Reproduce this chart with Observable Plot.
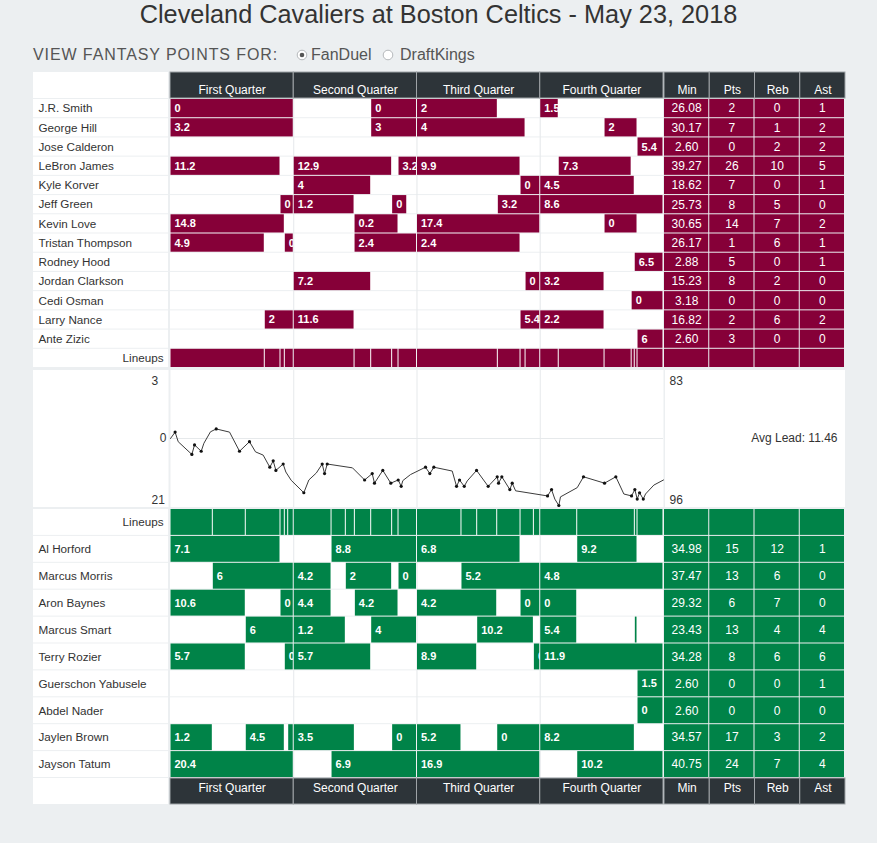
<!DOCTYPE html>
<html>
<head>
<meta charset="utf-8">
<script src="https://cdn.jsdelivr.net/npm/d3@7"></script>
<script src="https://cdn.jsdelivr.net/npm/@observablehq/plot@0.6"></script>
<style>
  html,body{margin:0;padding:0;background:#eceff1;}
  body{font-family:"Liberation Sans",Arial,Helvetica,sans-serif;}
  #page{position:relative;width:877px;height:843px;overflow:hidden;}
  .abs{position:absolute;}
  .abs svg{display:block;}
  #title{left:0;top:-1px;width:877px;text-align:center;font-size:25.3px;line-height:30px;color:#333;}
  .opt{font-size:16px;line-height:20px;color:#555;top:45px;white-space:nowrap;}
</style>
</head>
<body>
<div id="page">
  <div id="title" class="abs">Cleveland Cavaliers at Boston Celtics - May 23, 2018</div>
  <div class="abs opt" style="left:33px;letter-spacing:0.9px">VIEW FANTASY POINTS FOR:</div>
  <svg class="abs" style="left:296px;top:49px" width="12" height="12"><circle cx="6" cy="6" r="4.8" fill="#fff" stroke="#b5b8bb"/><circle cx="6" cy="6" r="2.3" fill="#555"/></svg>
  <div class="abs opt" style="left:311px">FanDuel</div>
  <svg class="abs" style="left:382px;top:49px" width="12" height="12"><circle cx="6" cy="6" r="4.8" fill="#fff" stroke="#b5b8bb"/></svg>
  <div class="abs opt" style="left:400px">DraftKings</div>
  <div class="abs" style="left:33px;top:72px;width:135px;height:26px;background:#fff"></div>
  <div class="abs" style="left:33px;top:778px;width:135px;height:26px;background:#fff"></div>
</div>
<script>
// ---------- data ----------
const quarterNames = ["First Quarter", "Second Quarter", "Third Quarter", "Fourth Quarter"];
const quarterStart = [0, 12, 24, 36];
const quarterEnd = [12, 24, 36, 48];
const statNames = ["Min", "Pts", "Reb", "Ast"];

const cavsPlayers = ["J.R. Smith", "George Hill", "Jose Calderon", "LeBron James", "Kyle Korver", "Jeff Green", "Kevin Love", "Tristan Thompson", "Rodney Hood", "Jordan Clarkson", "Cedi Osman", "Larry Nance", "Ante Zizic"];
const cavsMin = [26.08, 30.17, 2.60, 39.27, 18.62, 25.73, 30.65, 26.17, 2.88, 15.23, 3.18, 16.82, 2.60];
const cavsPts = [2, 7, 0, 26, 7, 8, 14, 1, 5, 8, 0, 2, 3];
const cavsReb = [0, 1, 2, 10, 0, 5, 7, 6, 0, 2, 0, 6, 0];
const cavsAst = [1, 2, 2, 5, 1, 0, 2, 1, 1, 0, 0, 2, 0];

// [player, start minute, end minute, fantasy points]
const cavsStints = [
  ["J.R. Smith", 0, 12, 0], ["J.R. Smith", 19.54, 24, 0], ["J.R. Smith", 24, 31.87, 2], ["J.R. Smith", 36, 37.8, 1.5],
  ["George Hill", 0, 12, 3.2], ["George Hill", 19.54, 24, 3], ["George Hill", 24, 34.57, 4], ["George Hill", 42.26, 45.47, 2],
  ["Jose Calderon", 45.47, 48, 5.4],
  ["LeBron James", 0, 10.71, 11.2], ["LeBron James", 12, 21.58, 12.9], ["LeBron James", 22.2, 24, 3.2], ["LeBron James", 24, 34.08, 9.9], ["LeBron James", 37.8, 44.9, 7.3],
  ["Kyle Korver", 12, 19.54, 4], ["Kyle Korver", 34.08, 36, 0], ["Kyle Korver", 36, 45.2, 4.5],
  ["Jeff Green", 10.71, 12, 0], ["Jeff Green", 12, 17.92, 1.2], ["Jeff Green", 21.58, 23.05, 0], ["Jeff Green", 31.87, 36, 3.2], ["Jeff Green", 36, 48, 8.6],
  ["Kevin Love", 0, 11.13, 14.8], ["Kevin Love", 17.92, 22.2, 0.2], ["Kevin Love", 24, 36, 17.4], ["Kevin Love", 42.26, 45.47, 0],
  ["Tristan Thompson", 0, 9.18, 4.9], ["Tristan Thompson", 11.13, 12, 0], ["Tristan Thompson", 17.92, 24, 2.4], ["Tristan Thompson", 24, 34.08, 2.4],
  ["Rodney Hood", 45.2, 48, 6.5],
  ["Jordan Clarkson", 12, 19.54, 7.2], ["Jordan Clarkson", 34.57, 36, 0], ["Jordan Clarkson", 36, 42.26, 3.2],
  ["Cedi Osman", 44.9, 48, 0],
  ["Larry Nance", 9.18, 12, 2], ["Larry Nance", 12, 17.92, 11.6], ["Larry Nance", 34.08, 36, 5.4], ["Larry Nance", 36, 42.26, 2.2],
  ["Ante Zizic", 45.47, 48, 6]
];
const cavsLineupChanges = [9.18, 10.71, 11.13, 12, 17.92, 19.54, 21.58, 22.2, 24, 31.87, 34.08, 34.57, 36, 37.8, 42.26, 44.9, 45.2, 45.47];

const celticsPlayers = ["Al Horford", "Marcus Morris", "Aron Baynes", "Marcus Smart", "Terry Rozier", "Guerschon Yabusele", "Abdel Nader", "Jaylen Brown", "Jayson Tatum"];
const celticsMin = [34.98, 37.47, 29.32, 23.43, 34.28, 2.60, 2.60, 34.57, 40.75];
const celticsPts = [15, 13, 6, 13, 8, 0, 0, 17, 24];
const celticsReb = [12, 6, 7, 4, 6, 0, 0, 3, 7];
const celticsAst = [1, 0, 0, 4, 6, 1, 0, 2, 4];

const celticsStints = [
  ["Al Horford", 0, 10.71, 7.1], ["Al Horford", 15.68, 24, 8.8], ["Al Horford", 24, 34.08, 6.8], ["Al Horford", 39.6, 45.47, 9.2],
  ["Marcus Morris", 4.12, 12, 6], ["Marcus Morris", 12, 15.68, 4.2], ["Marcus Morris", 17.07, 21.58, 2], ["Marcus Morris", 22.2, 24, 0], ["Marcus Morris", 28.33, 36, 5.2], ["Marcus Morris", 36, 48, 4.8],
  ["Aron Baynes", 0, 7.33, 10.6], ["Aron Baynes", 10.71, 12, 0], ["Aron Baynes", 12, 15.68, 4.4], ["Aron Baynes", 17.95, 22.2, 4.2], ["Aron Baynes", 24, 31.81, 4.2], ["Aron Baynes", 34.08, 36, 0], ["Aron Baynes", 36, 39.6, 0],
  ["Marcus Smart", 7.33, 12, 6], ["Marcus Smart", 12, 17.07, 1.2], ["Marcus Smart", 19.54, 24, 4], ["Marcus Smart", 29.86, 35.38, 10.2], ["Marcus Smart", 36, 39.6, 5.4], ["Marcus Smart", 45.21, 45.47, null],
  ["Terry Rozier", 0, 7.33, 5.7], ["Terry Rozier", 11.13, 12, 0], ["Terry Rozier", 12, 19.54, 5.7], ["Terry Rozier", 24, 29.86, 8.9], ["Terry Rozier", 35.38, 36, 0], ["Terry Rozier", 36, 48, 11.9],
  ["Guerschon Yabusele", 45.47, 48, 1.5],
  ["Abdel Nader", 45.47, 48, 0],
  ["Jaylen Brown", 0, 4.12, 1.2], ["Jaylen Brown", 7.33, 11.13, 4.5], ["Jaylen Brown", 11.46, 12, null], ["Jaylen Brown", 12, 17.95, 3.5], ["Jaylen Brown", 21.58, 24, 0], ["Jaylen Brown", 24, 28.33, 5.2], ["Jaylen Brown", 31.81, 36, 0], ["Jaylen Brown", 36, 45.21, 8.2],
  ["Jayson Tatum", 0, 12, 20.4], ["Jayson Tatum", 15.68, 24, 6.9], ["Jayson Tatum", 24, 36, 16.9], ["Jayson Tatum", 39.6, 48, 10.2]
];
const celticsLineupChanges = [4.12, 7.33, 10.71, 11.13, 11.46, 12, 15.68, 17.07, 17.95, 19.54, 21.58, 22.2, 24, 28.33, 29.86, 31.81, 34.08, 35.38, 36, 39.6, 45.21, 45.47];

// score margin (Cavs minus Celtics) over game minutes
const leadTime = [0, 0.45, 0.75, 2.08, 2.34, 2.99, 3.25, 3.89, 4.45, 5.75, 6.72, 7.69, 8.28, 9.02, 9.67, 10.0, 10.26, 10.97, 11.23, 11.75, 12.98, 13.47, 14.2, 14.77, 15.0, 15.26, 17.72, 18.9, 19.64, 19.86, 20.67, 21.45, 22.17, 22.46, 22.62, 23.37, 24.83, 25.25, 25.64, 27.43, 27.85, 28.14, 28.6, 28.89, 29.8, 30.93, 31.81, 31.94, 32.26, 33.04, 33.27, 33.6, 36.71, 37.1, 37.42, 37.81, 37.97, 39.6, 40.21, 42.26, 43.36, 44.14, 44.89, 45.21, 45.44, 45.67, 46.03, 46.25, 47.06, 48];
const leadMargin = [0, 2, -1, -5, -2, -4, -1.5, 2.1, 3, 2, -4, -1, -4.2, -5.2, -9, -7, -10, -8, -10.5, -13.1, -17, -13, -10.8, -8, -11, -8, -9.2, -13, -11, -14, -10, -14, -13, -15, -13.2, -11.3, -9, -11, -9, -10.2, -15, -13, -15, -13.3, -10, -15, -12, -14, -12, -16, -14, -16.4, -18, -16, -19, -21, -18.3, -15.4, -12, -14, -12, -17.4, -18, -16, -19, -17, -19, -17.4, -14.6, -13];
const leadDot = [0, 1, 0, 1, 1, 1, 0, 0, 1, 0, 1, 1, 0, 0, 1, 1, 1, 1, 0, 0, 1, 0, 0, 1, 1, 1, 0, 1, 1, 1, 1, 1, 1, 1, 0, 0, 1, 1, 1, 0, 1, 1, 1, 0, 1, 1, 1, 1, 1, 1, 1, 0, 1, 1, 0, 1, 0, 0, 1, 1, 1, 0, 1, 1, 1, 1, 1, 0, 0, 0];
const finalScores = [83, 96];
const avgLead = 11.46;

// ---------- styling ----------
const MAROON = "#860038", GREEN = "#008348", DARK = "#2d3439", PAGE = "#eceff1", GRID = "#e6e9eb";
const FONT = '"Liberation Sans", Arial, Helvetica, sans-serif';
const style = {fontFamily: FONT, fontSize: "12px", background: "transparent", overflow: "visible"};
const page = document.getElementById("page");
function place(el, left, top) {
  const d = document.createElement("div");
  d.className = "abs";
  d.style.left = left + "px";
  d.style.top = top + "px";
  d.appendChild(el);
  page.appendChild(d);
}
const quarters = quarterNames.map((n, i) => ({name: n, s: quarterStart[i], e: quarterEnd[i]}));
const qIndex = t => Math.min(3, Math.floor(t / 12));

function timeHeader(bottom) {
  return Plot.plot({
    width: 493, height: 26, margin: 0, style,
    x: {domain: [0, 48], axis: null},
    marks: [
      Plot.barX(quarters, {x1: "s", x2: "e", fill: DARK, stroke: "#9ea3a7", strokeWidth: 1}),
      Plot.text(quarters, {x: d => (d.s + d.e) / 2, text: "name", frameAnchor: "middle", dy: bottom ? -3.5 : 4.5, fill: "white", fontSize: 12})
    ]
  });
}
function statsHeader(bottom) {
  return Plot.plot({
    width: 181, height: 26, margin: 0, style,
    x: {type: "band", domain: statNames, padding: 0, round: false, axis: null},
    marks: [
      Plot.cell(statNames, {x: d => d, fill: DARK, stroke: "#9ea3a7", strokeWidth: 1}),
      Plot.text(statNames, {x: d => d, text: d => d, frameAnchor: "middle", dy: bottom ? -3.5 : 4.5, fill: "white", fontSize: 12})
    ]
  });
}
function namesPlot(rows, h) {
  return Plot.plot({
    width: 135, height: h, margin: 0, style,
    y: {type: "band", domain: rows, padding: 0, round: false, axis: null},
    marks: [
      Plot.cell(rows, {y: d => d, fill: "white", insetBottom: 1}),
      Plot.text(rows.filter(r => r !== "Lineups"), {y: d => d, text: d => d, frameAnchor: "left", dx: 5, dy: -0.5, textAnchor: "start", fill: "#333", fontSize: 11.7}),
      Plot.text(["Lineups"], {y: d => d, text: d => d, frameAnchor: "right", dx: -5, dy: -0.5, textAnchor: "end", fill: "#333", fontSize: 11.7})
    ]
  });
}
function timePlot(rows, stints, changes, color, h) {
  // stints and lineup segments are laid out per quarter (minutes within the quarter)
  const segs = d3.pairs([0, ...changes, 48]).map(([a, b]) => {
    const q = qIndex(a);
    return {q: quarterNames[q], s: a - quarterStart[q], e: b - quarterStart[q]};
  });
  const st = stints.map(([p, a, b, v]) => {
    const q = qIndex(a);
    return {p, q: quarterNames[q], s: a - quarterStart[q], e: b - quarterStart[q], v};
  });
  const bg = rows.flatMap(r => quarterNames.map(q => ({r, q})));
  return Plot.plot({
    width: 493, height: h, margin: 0, style,
    fx: {domain: quarterNames, padding: 0, round: false, axis: null},
    x: {domain: [0, 12], axis: null},
    y: {type: "band", domain: rows, padding: 0, round: false, axis: null},
    marks: [
      Plot.cell(bg, {fx: "q", y: "r", fill: "white", insetBottom: 1}),
      Plot.ruleX(quarterNames.slice(1), {fx: d => d, x: 0, stroke: GRID}),
      Plot.barX(st, {fx: "q", x1: "s", x2: "e", y: "p", fill: color, insetBottom: 1, insetLeft: 0.5, insetRight: 0.5}),
      Plot.barX(segs, {fx: "q", x1: "s", x2: "e", y: () => "Lineups", fill: color, insetBottom: 1, insetLeft: 0.5, insetRight: 0.5}),
      Plot.text(st.filter(d => d.v != null), {fx: "q", x: "s", y: "p", text: d => String(d.v), dx: 4, dy: -0.5, textAnchor: "start", fill: "white", fontWeight: "bold", fontSize: 11, clip: true})
    ]
  });
}
function statsPlot(rows, players, mins, pts, reb, ast, color, h) {
  const fmt = d3.format(".2f");
  const cells = rows.flatMap(r => {
    const i = players.indexOf(r);
    const vals = i < 0 ? ["", "", "", ""] : [fmt(mins[i]), String(pts[i]), String(reb[i]), String(ast[i])];
    return statNames.map((s, j) => ({r, s, v: vals[j]}));
  });
  return Plot.plot({
    width: 181, height: h, margin: 0, style,
    x: {type: "band", domain: statNames, padding: 0, round: false, axis: null},
    y: {type: "band", domain: rows, padding: 0, round: false, axis: null},
    marks: [
      Plot.cell(cells, {x: "s", y: "r", fill: color, insetRight: 1, insetBottom: 1}),
      Plot.text(cells.filter(d => d.v !== ""), {x: "s", y: "r", text: "v", dx: -0.5, dy: -0.5, fill: "white", fontSize: 12})
    ]
  });
}
function leadPlot() {
  const lead = leadTime.map((t, i) => ({t, m: leadMargin[i], dot: leadDot[i]}));
  const maxAbs = d3.max(leadMargin, Math.abs);
  const cavsMax = d3.max(leadMargin), celtMax = -d3.min(leadMargin);
  return Plot.plot({
    width: 812, height: 137, marginLeft: 137, marginRight: 182, marginTop: 1, marginBottom: 2,
    style: {...style, background: "white"},
    x: {domain: [0, 48], axis: null},
    y: {domain: [-maxAbs, maxAbs], axis: null},
    marks: [
      Plot.ruleX(quarterStart.slice(1), {stroke: GRID, insetTop: -1, insetBottom: -2}),
      Plot.ruleY([0], {stroke: GRID}),
      Plot.ruleX([0], {stroke: PAGE, strokeWidth: 2, dx: -1, insetTop: -1, insetBottom: -2}),
      Plot.ruleX([48], {stroke: PAGE, strokeWidth: 1.5, dx: 0.75, insetTop: -1, insetBottom: -2}),
      Plot.line(lead, {x: "t", y: "m", stroke: "#3c3c3c", strokeWidth: 1}),
      Plot.dot(lead.filter(d => d.dot), {x: "t", y: "m", r: 1.6, fill: "#111"}),
      Plot.text([String(cavsMax)], {text: d => d, frameAnchor: "top-left", dx: -19, dy: 5, textAnchor: "start", lineAnchor: "top", fill: "#333", fontSize: 12}),
      Plot.text([String(celtMax)], {text: d => d, frameAnchor: "bottom-left", dx: -19, dy: -2, textAnchor: "start", lineAnchor: "bottom", fill: "#333", fontSize: 12}),
      Plot.text([0], {y: d => d, text: d => String(d), frameAnchor: "left", dx: -4, textAnchor: "end", fill: "#333", fontSize: 12}),
      Plot.text([String(finalScores[0])], {text: d => d, frameAnchor: "top-right", dx: 6, dy: 5, textAnchor: "start", lineAnchor: "top", fill: "#333", fontSize: 12}),
      Plot.text([String(finalScores[1])], {text: d => d, frameAnchor: "bottom-right", dx: 6, dy: -2, textAnchor: "start", lineAnchor: "bottom", fill: "#333", fontSize: 12}),
      Plot.text([0], {y: d => d, text: () => "Avg Lead: " + avgLead, frameAnchor: "right", dx: 174, textAnchor: "end", fill: "#333", fontSize: 12})
    ]
  });
}

// ---------- layout ----------
const cavsRows = [...cavsPlayers, "Lineups"];
const celticsRows = ["Lineups", ...celticsPlayers];

place(timeHeader(false), 170, 72);
place(statsHeader(false), 664, 72);
place(namesPlot(cavsRows, 269), 33, 99);
place(timePlot(cavsRows, cavsStints, cavsLineupChanges, MAROON, 269), 170, 99);
place(statsPlot(cavsRows, cavsPlayers, cavsMin, cavsPts, cavsReb, cavsAst, MAROON, 269), 664, 99);
place(leadPlot(), 33, 370);
place(namesPlot(celticsRows, 269), 33, 509);
place(timePlot(celticsRows, celticsStints, celticsLineupChanges, GREEN, 269), 170, 509);
place(statsPlot(celticsRows, celticsPlayers, celticsMin, celticsPts, celticsReb, celticsAst, GREEN, 269), 664, 509);
place(timeHeader(true), 170, 778);
place(statsHeader(true), 664, 778);
</script>
</body>
</html>
